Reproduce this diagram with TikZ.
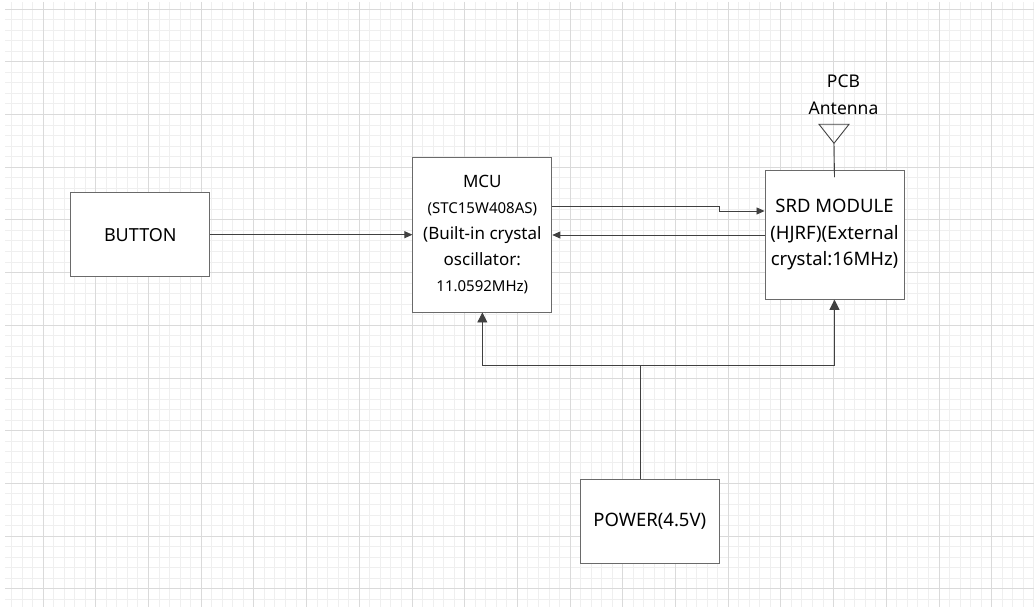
\documentclass[tikz,border=0pt]{standalone}
\usepackage{fontspec}
\setmainfont{Noto Sans}
\usetikzlibrary{arrows.meta}
\definecolor{gridminor}{HTML}{EFEFEF}
\definecolor{gridmajor}{HTML}{DADADA}
\definecolor{boxline}{HTML}{6A6A6A}
\definecolor{wireline}{HTML}{404040}
\newcommand{\smallline}[1]{{\fontsize{15}{26}\selectfont #1}}
\begin{document}
\begin{tikzpicture}
[x=1pt,y=-1pt,%
  block/.style={draw=boxline,line width=0.9pt,fill=white,align=center,minimum width=139pt,
    inner sep=2pt,font=\fontsize{17}{26}\selectfont},%
  conn/.style={draw=wireline,line width=0.8pt,-{Triangle[length=8pt,width=7pt]}},%
  feed/.style={draw=wireline,line width=0.9pt,-{Triangle[length=10pt,width=10pt]}},%
  wire/.style={draw=wireline,line width=0.9pt}]
\useasboundingbox (0,0) rectangle (1034,607);
%% grid
\foreach \i in {1,...,98}
  \draw[gridminor,line width=0.8pt] ({0.84+10.54*\i},2) -- ({0.84+10.54*\i},607);
\foreach \j in {1,...,57}
  \draw[gridminor,line width=0.8pt] (5,{-1.54+10.54*\j}) -- (1034,{-1.54+10.54*\j});
\foreach \i in {0,...,18}
  \draw[gridmajor,line width=0.8pt] ({43+52.7*\i},2) -- ({43+52.7*\i},607);
\foreach \j in {0,...,11}
  \draw[gridmajor,line width=0.8pt] (5,{9+52.7*\j}) -- (1034,{9+52.7*\j});
%% blocks
\node[block,minimum height=84pt,font=\fontsize{18}{26}\selectfont] (button) at (140.35,234.7) {BUTTON};
\node[block,minimum height=154.3pt] (mcu) at (482.35,234.85)
  {MCU\\ \smallline{(STC15W408AS)}\\ (Built-in crystal\\ oscillator:\\ \smallline{11.0592MHz)}};
\node[block,minimum height=128.6pt,font=\fontsize{18.5}{26.5}\selectfont] (srd) at (834.5,235)
  {SRD MODULE\\ (HJRF)(External\\ crystal:16MHz)};
\node[block,minimum height=84pt,font=\fontsize{18.5}{26}\selectfont] (power) at (649.8,521.3) {POWER(4.5V)};
%% antenna
\coordinate (ant) at (834,143.3);
\draw[wire] (ant) -- ++(-15,-19) -- ++(30,0) -- cycle;
\draw[wire] (ant) -- ([yshift=-7pt]srd.north);
\node[align=center,font=\fontsize{17.5}{27}\selectfont] (antlabel) at (843.5,95) {PCB\\ Antenna};
%% connectors
\draw[conn] (button.east) -- (button.east -| mcu.west);
\draw[conn] ([yshift=28.2pt]mcu.east) -- ++(167,0) |- ([yshift=24pt]srd.west);
\draw[conn] (srd.west) -- (srd.west -| mcu.east);
\coordinate (tap) at ([xshift=-9.5pt]power.north);
\coordinate (bus) at (tap |- 0,365);
\draw[wire] (tap) -- (bus);
\draw[feed] (bus) -| (mcu.south);
\draw[feed] (bus) -| (srd.south);
\end{tikzpicture}
\end{document}
